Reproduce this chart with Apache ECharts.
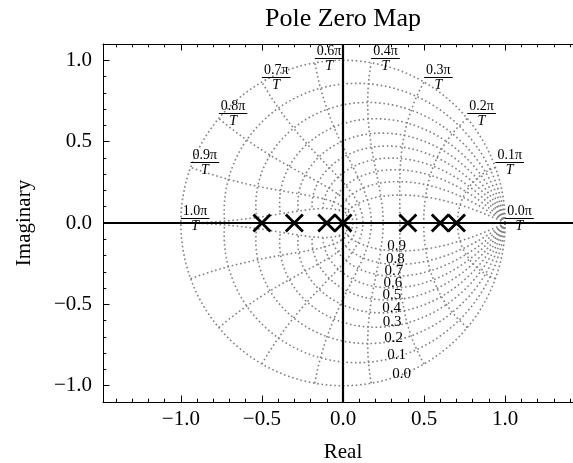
<!DOCTYPE html>
<html><head><meta charset="utf-8">
<script src="https://cdn.jsdelivr.net/npm/echarts@6/dist/echarts.min.js"></script>
<style>html,body{margin:0;padding:0;background:#fff}#c{width:573px;height:463px}</style>
</head><body><div id="c"></div>
<script>
// ---- data ----
const poleReal = [-0.5, -0.3, -0.1, 0.0, 0.4, 0.6, 0.7];
const poleImag = [0, 0, 0, 0, 0, 0, 0];
const zetaLevels = [0.0, 0.1, 0.2, 0.3, 0.4, 0.5, 0.6, 0.7, 0.8, 0.9];
const wnLevels = [0.0, 0.1111, 0.2222, 0.3333, 0.4444, 0.5556, 0.6667, 0.7778, 0.8889, 1.0];
const xMajorTicks = [-1.0, -0.5, 0.0, 0.5, 1.0];
const xMinorTicks = [-1.4, -1.3, -1.2, -1.1, -0.9, -0.8, -0.7, -0.6, -0.4, -0.3, -0.2, -0.1, 0.1, 0.2, 0.3, 0.4, 0.6, 0.7, 0.8, 0.9, 1.1, 1.2, 1.3, 1.4];
const yMajorTicks = [-1.0, -0.5, 0.0, 0.5, 1.0];
const yMinorTicks = [-0.9, -0.8, -0.7, -0.6, -0.4, -0.3, -0.2, -0.1, 0.1, 0.2, 0.3, 0.4, 0.6, 0.7, 0.8, 0.9];
const xRange = [-1.48, 1.48];
const yRange = [-1.1, 1.1];
const titleText = 'Pole Zero Map';
const xName = 'Real';
const yName = 'Imaginary';

// ---- style ----
const FONT = '"Liberation Serif", "Times New Roman", serif';
const GRID = {left: 103, top: 44, width: 480, height: 358, outerBoundsMode: 'none', containLabel: false};
const GREY = '#808080';
const DOT = {color: GREY, width: 1.6, type: [1.6, 2.7]};
const N = 200;

const mctx = document.createElement('canvas').getContext('2d');

function linspace(a, b, n) { const r = []; for (let i = 0; i < n; i++) r.push(a + (b - a) * i / (n - 1)); return r; }

// damping-ratio curves (discrete-time grid)
const gridSeries = [];
const zetaLabelData = [];
zetaLevels.forEach(z => {
  const s = Math.sqrt(1 - z * z);
  const f = z / s;
  const xs = linspace(0, s, N);
  const up = [], lo = [];
  xs.forEach(x => {
    const ang = Math.PI * x, mag = Math.exp(-Math.PI * f * x);
    up.push([mag * Math.cos(ang), mag * Math.sin(ang)]);
    lo.push([mag * Math.cos(-ang), mag * Math.sin(-ang)]);
  });
  const idx = Math.floor(N / 2.5);
  zetaLabelData.push([lo[idx][0], lo[idx][1], z]);
  [up, lo].forEach(d => gridSeries.push({type: 'line', data: d, showSymbol: false, silent: true, z: 2,
    lineStyle: DOT, animation: false, xAxisIndex: 0, yAxisIndex: 0}));
});
// natural-frequency curves
const wnLabelData = [];
wnLevels.forEach(a => {
  const xs = linspace(-Math.PI / 2, Math.PI / 2, N);
  const d = xs.map(x => {
    const ang = Math.PI * a * Math.sin(x), mag = Math.exp(-Math.PI * a * Math.cos(x));
    return [mag * Math.cos(ang), mag * Math.sin(ang)];
  });
  wnLabelData.push([d[N - 1][0], d[N - 1][1], a]);
  gridSeries.push({type: 'line', data: d, showSymbol: false, silent: true, z: 2,
    lineStyle: DOT, animation: false, xAxisIndex: 0, yAxisIndex: 0});
});

const fmt = v => (v < 0 ? '\u2212' : '') + Math.abs(v).toFixed(1);

function xAx(pos, ticks, len, showLine, labels) {
  return {type: 'value', position: pos, min: xRange[0], max: xRange[1], gridIndex: 0,
    axisLine: {show: showLine, onZero: false, lineStyle: {color: '#000', width: 1}},
    axisTick: {show: true, inside: true, length: len, customValues: ticks, lineStyle: {color: '#000', width: 1}},
    axisLabel: {show: labels, customValues: ticks, formatter: fmt, margin: 7, color: '#000', fontFamily: FONT, fontSize: 21},
    splitLine: {show: false}, minorTick: {show: false},
    name: labels ? xName : '', nameLocation: 'middle', nameGap: 40,
    nameTextStyle: {fontFamily: FONT, fontSize: 21, color: '#000'}};
}
function yAx(pos, ticks, len, showLine, labels) {
  return {type: 'value', position: pos, min: yRange[0], max: yRange[1], gridIndex: 0,
    axisLine: {show: showLine, onZero: false, lineStyle: {color: '#000', width: 1}},
    axisTick: {show: true, inside: true, length: len, customValues: ticks, lineStyle: {color: '#000', width: 1}},
    axisLabel: {show: labels, customValues: ticks, formatter: fmt, margin: 11, color: '#000', fontFamily: FONT, fontSize: 21},
    splitLine: {show: false}, minorTick: {show: false},
    name: labels ? yName : '', nameLocation: 'middle', nameGap: 68, nameRotate: 90,
    nameTextStyle: {fontFamily: FONT, fontSize: 21, color: '#000'}};
}

const chart = echarts.init(document.getElementById('c'), null, {renderer: 'canvas'});
chart.setOption({
  animation: false,
  backgroundColor: '#fff',
  grid: GRID,
  graphic: [{type: 'text', x: GRID.left + GRID.width / 2, y: 19, z: 10,
    style: {text: titleText, font: '26px ' + FONT, fill: '#000', align: 'center', verticalAlign: 'middle'}}],
  xAxis: [xAx('bottom', xMajorTicks, 6.5, true, true), xAx('top', xMajorTicks, 6.5, true, false),
          xAx('bottom', xMinorTicks, 3.3, false, false), xAx('top', xMinorTicks, 3.3, false, false)],
  yAxis: [yAx('left', yMajorTicks, 6.5, true, true), yAx('right', yMajorTicks, 6.5, true, false),
          yAx('left', yMinorTicks, 3.3, false, false), yAx('right', yMinorTicks, 3.3, false, false)],
  series: [
    {type: 'line', data: [], silent: true, z: 1, xAxisIndex: 0, yAxisIndex: 0,
      markLine: {silent: true, symbol: ['none', 'none'], animation: false, label: {show: false},
        lineStyle: {color: '#000', width: 2.2, type: 'solid'},
        data: [{xAxis: 0}, {yAxis: 0}]}},
    ...gridSeries,
    {type: 'custom', data: wnLabelData, z: 3, silent: true, xAxisIndex: 0, yAxisIndex: 0,
      renderItem: (params, api) => {
        const p = api.coord([api.value(0), api.value(1)]);
        const num = api.value(2).toFixed(1) + '\u03c0';
        const f = '14px ' + FONT;
        mctx.font = f;
        const w = mctx.measureText(num).width + 4;
        const by = Math.round(p[1] - 5) + 0.5;
        return {type: 'group', children: [
          {type: 'text', x: p[0] + w / 2, y: by - 0.5, style: {text: num, font: f, fill: '#000', align: 'center', verticalAlign: 'bottom'}},
          {type: 'line', shape: {x1: p[0], y1: by, x2: p[0] + w, y2: by}, style: {stroke: '#000', lineWidth: 1}},
          {type: 'text', x: p[0] + w / 2, y: by + 1, style: {text: 'T', font: 'italic ' + f, fill: '#000', align: 'center', verticalAlign: 'top'}}
        ]};
      }},
    {type: 'custom', data: zetaLabelData, z: 3, silent: true, xAxisIndex: 0, yAxisIndex: 0,
      renderItem: (params, api) => {
        const p = api.coord([api.value(0), api.value(1)]);
        return {type: 'text', x: p[0], y: p[1] + 3,
          style: {text: api.value(2).toFixed(1), font: '15px ' + FONT, fill: '#000', align: 'left', verticalAlign: 'bottom'}};
      }},
    {type: 'scatter', data: poleReal.map((r, i) => [r, poleImag[i]]), z: 5, xAxisIndex: 0, yAxisIndex: 0,
      symbol: 'path://M0,0L10,10M10,0L0,10', symbolSize: 17,
      itemStyle: {color: 'rgba(0,0,0,0)', borderColor: '#000', borderWidth: 2.8, opacity: 1}}
  ]
});
</script></body></html>
